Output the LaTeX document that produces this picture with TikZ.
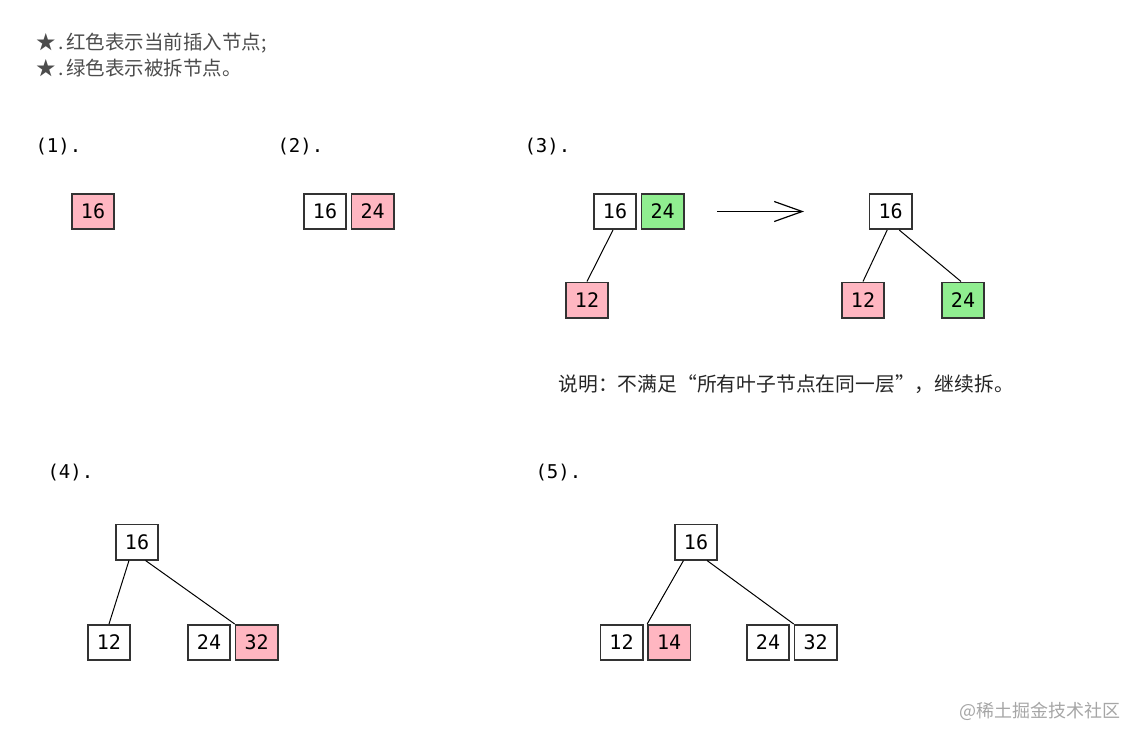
\documentclass[tikz,border=0pt]{standalone}
\usepackage{fontspec}
\setmonofont{DejaVu Sans Mono}
\newfontfamily\cjk{Noto Sans CJK SC}
\usetikzlibrary{positioning, arrows.meta}

\definecolor{insertred}{HTML}{FFB6C1}
\definecolor{splitgreen}{HTML}{90EE90}
\definecolor{boxline}{HTML}{333333}

\tikzset{
  key/.style={draw=boxline, line width=1.7pt, fill=white, inner sep=0pt,
    minimum width=42.3pt, minimum height=35.3pt,
    font=\ttfamily\fontsize{20}{20}\selectfont},
  newkey/.style={key, fill=insertred},
  splitkey/.style={key, fill=splitgreen},
  steplabel/.style={anchor=west, font=\ttfamily\fontsize{19}{19}\selectfont},
  notetext/.style={anchor=west, text=black!70, font=\cjk\fontsize{19.5}{19.5}\selectfont},
  link/.style={line width=1pt, black},
}

\begin{document}
\begin{tikzpicture}[x=1pt, y=-1pt]
  \useasboundingbox (0,0) rectangle (1141,742);

  % legend
  \node[notetext] (lgRed) at (33,43) {★\kern2pt.\kern3pt 红色表示当前插入节点;};
  \node[notetext] (lgGreen) at (33,68) {★\kern2pt.\kern3pt 绿色表示被拆节点。};

  % (1)
  \node[steplabel] (s1) at (32,147) {(1).};
  \node[newkey] (a16) at (93,211.5) {16};

  % (2)
  \node[steplabel] (s2) at (274,147) {(2).};
  \node[key] (b16) at (325,211.5) {16};
  \node[newkey, right=3.7pt of b16] (b24) {24};

  % (3) before the split
  \node[steplabel] (s3) at (521,147) {(3).};
  \node[key] (c16) at (615,211.5) {16};
  \node[splitkey, right=3.7pt of c16] (c24) {24};
  \node[newkey] (c12) at (587,300) {12};
  \draw[link] ([xshift=-2pt]c16.south) -- (c12.north);

  \coordinate (arrA) at (717,211.5);
  \coordinate (arrB) at (804,211.5);
  \draw[line width=1.2pt, -{Straight Barb[length=28pt, width=20pt]}] (arrA) -- (arrB);

  % (3) after the split
  \node[key] (d16) at (890.7,211.5) {16};
  \node[newkey] (d12) at (863,300) {12};
  \node[splitkey] (d24) at (963,300) {24};
  \draw[link] ([xshift=-3.5pt]d16.south) -- (d12.north);
  \draw[link] ([xshift=8.5pt]d16.south) -- ([xshift=-2pt]d24.north);

  \node[anchor=west, text=black!85, font=\cjk\fontsize{19.8}{19.8}\selectfont] (note3)
    at (555,384) {说明：不满足“所有叶子节点在同一层”，继续拆。};

  % (4)
  \node[steplabel] (s4) at (44,473) {(4).};
  \node[key] (e16) at (137,542) {16};
  \node[key] (e12) at (109,642.5) {12};
  \node[key] (e24) at (209,642.5) {24};
  \node[newkey, right=3.7pt of e24] (e32) {32};
  \draw[link] ([xshift=-8pt]e16.south) -- (e12.north);
  \draw[link] ([xshift=8.5pt]e16.south) -- (e32.north west);

  % (5)
  \node[steplabel] (s5) at (532,473) {(5).};
  \node[key] (f16) at (696,542) {16};
  \node[key] (f12) at (621.5,642.5) {12};
  \node[newkey, right=3.7pt of f12] (f14) {14};
  \node[key] (f24) at (768,642.5) {24};
  \node[key, right=3.7pt of f24] (f32) {32};
  \draw[link] ([xshift=-12.5pt]f16.south) -- (f14.north west);
  \draw[link] ([xshift=11pt]f16.south) -- (f32.north west);

  % watermark
  \node[anchor=west, text=black!35, font=\cjk\fontsize{18}{18}\selectfont] (mark)
    at (956,711) {@稀土掘金技术社区};
\end{tikzpicture}
\end{document}
